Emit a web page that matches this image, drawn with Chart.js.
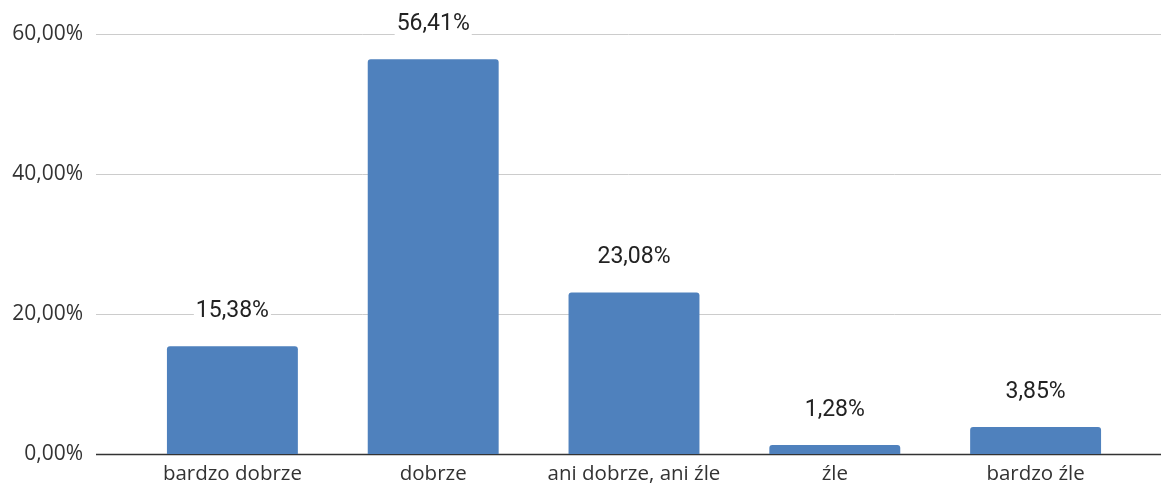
<!DOCTYPE html>
<html>
<head>
<meta charset="utf-8">
<script src="https://cdn.jsdelivr.net/npm/chart.js"></script>
<style>
  html, body { margin: 0; padding: 0; background: #fff; overflow: hidden; }
  canvas { display: block; }
</style>
</head>
<body>
<canvas id="ocenaChart" width="1161" height="488" style="width:1161px;height:488px"></canvas>
<script>
// dane z wykresu
const categories = ['bardzo dobrze', 'dobrze', 'ani dobrze, ani źle', 'źle', 'bardzo źle'];
const values = [15.38, 56.41, 23.08, 1.28, 3.85];
const yTicks = [0, 20, 40, 60];

const fmt = v => v.toFixed(2).replace('.', ',') + '%';

// linie siatki szersze niż obszar słupków (jak w arkuszu)
const gridPlugin = {
    id: 'wideGrid',
    beforeDatasetsDraw(chart) {
        const { ctx } = chart;
        const y = chart.scales.y;
        ctx.save();
        yTicks.forEach(t => {
            const py = Math.round(y.getPixelForValue(t)) + 0.5;
            ctx.beginPath();
            ctx.strokeStyle = t === 0 ? '#333333' : '#cccccc';
            ctx.lineWidth = t === 0 ? 1.5 : 1;
            ctx.moveTo(96, py);
            ctx.lineTo(chart.width, py);
            ctx.stroke();
        });
        ctx.restore();
    }
};

// etykiety wartości nad słupkami
const labelPlugin = {
    id: 'valueLabels',
    afterDatasetsDraw(chart) {
        const { ctx } = chart;
        const meta = chart.getDatasetMeta(0);
        ctx.save();
        ctx.font = '23px Roboto';
        ctx.textAlign = 'center';
        ctx.textBaseline = 'middle';
        meta.data.forEach((bar, i) => {
            const txt = fmt(values[i]);
            const ty = bar.y - 35;
            const w = ctx.measureText(txt).width;
            ctx.fillStyle = '#ffffff';
            ctx.fillRect(bar.x - w / 2 - 2, ty - 12, w + 4, 24);
            ctx.fillStyle = '#222222';
            ctx.fillText(txt, bar.x, ty);
        });
        ctx.restore();
    }
};

new Chart(document.getElementById('ocenaChart'), {
    type: 'bar',
    data: {
        labels: categories,
        datasets: [{
            data: values,
            backgroundColor: '#4f81bd',
            borderRadius: { topLeft: 3, topRight: 3 },
            borderSkipped: 'bottom',
            categoryPercentage: 1,
            barPercentage: 0.652
        }]
    },
    options: {
        responsive: false,
        animation: false,
        layout: { padding: { top: 34, right: 25, bottom: 0, left: 0 } },
        plugins: {
            legend: { display: false },
            tooltip: { enabled: false }
        },
        scales: {
            x: {
                afterFit(scale) { scale.height = 34; scale.paddingLeft = 0; scale.paddingRight = 0; },
                grid: { display: false, drawTicks: false },
                border: { display: false },
                ticks: {
                    color: '#333333',
                    font: { family: 'Open Sans', size: 20.5 },
                    padding: 8,
                    maxRotation: 0
                }
            },
            y: {
                min: 0,
                max: 60,
                afterFit(scale) { scale.width = 132; scale.paddingTop = 0; scale.paddingBottom = 0; },
                grid: { display: false, drawTicks: false },
                border: { display: false },
                afterBuildTicks(scale) { scale.ticks = yTicks.map(v => ({ value: v })); },
                ticks: {
                    color: '#333333',
                    font: { family: 'Open Sans', size: 21 },
                    padding: 49,
                    callback: v => fmt(v)
                }
            }
        }
    },
    plugins: [gridPlugin, labelPlugin]
});
</script>
</body>
</html>
